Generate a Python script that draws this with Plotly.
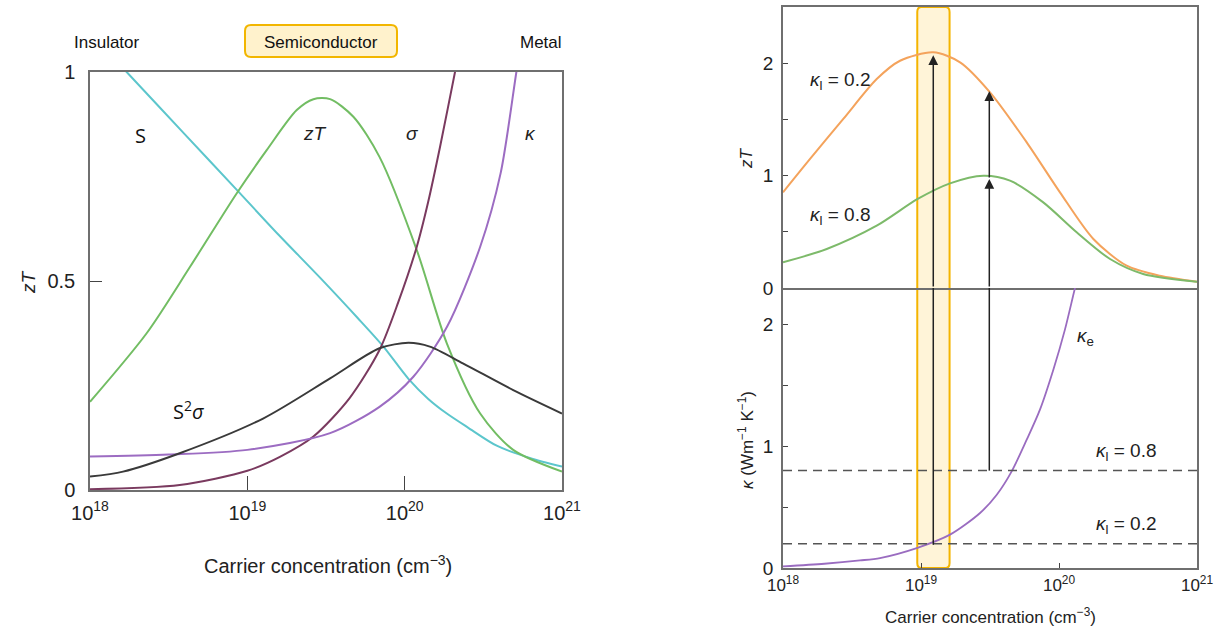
import numpy as np
import plotly.graph_objects as go

# ---------------- data (left panel) ----------------
# x positions are log10 of carrier concentration (cm^-3)
s_logn = [18.0, 18.233, 18.6, 18.933, 19.2, 19.462, 19.7, 19.865, 20.024, 20.15, 20.268, 20.4, 20.585, 20.8, 21.0]
s_val = [1.094, 1.0, 0.852, 0.718, 0.610, 0.508, 0.412, 0.343, 0.266, 0.218, 0.183, 0.150, 0.106, 0.076, 0.056]

zt_logn = [18.0, 18.36, 18.636, 18.933, 19.123, 19.314, 19.42, 19.526, 19.674, 19.84, 20.077, 20.268, 20.48, 20.69, 21.0]
zt_val = [0.211, 0.375, 0.534, 0.710, 0.813, 0.909, 0.935, 0.935, 0.893, 0.797, 0.574, 0.351, 0.183, 0.096, 0.044]

sig_logn = [18.0, 18.57, 19.0, 19.21, 19.42, 19.65, 19.84, 19.96, 20.077, 20.15, 20.225, 20.32, 20.4]
sig_val = [0.002, 0.012, 0.046, 0.080, 0.128, 0.220, 0.335, 0.450, 0.582, 0.690, 0.821, 1.0, 1.15]

kap_logn = [18.0, 18.5, 19.0, 19.526, 19.84, 20.055, 20.27, 20.48, 20.61, 20.71, 20.76]
kap_val = [0.080, 0.085, 0.096, 0.136, 0.199, 0.271, 0.391, 0.582, 0.758, 1.0, 1.12]

pf_logn = [18.0, 18.21, 18.57, 19.10, 19.526, 19.84, 20.024, 20.16, 20.37, 20.69, 21.0]
pf_val = [0.032, 0.044, 0.088, 0.171, 0.267, 0.339, 0.352, 0.343, 0.303, 0.239, 0.183]

# ---------------- data (right panel) ----------------
zt02_logn = [18.0, 18.196, 18.437, 18.679, 18.848, 19.089, 19.283, 19.5, 19.766, 20.007, 20.249, 20.49, 20.73, 21.0]
zt02_val = [0.851, 1.148, 1.504, 1.859, 2.022, 2.097, 2.008, 1.741, 1.296, 0.851, 0.436, 0.198, 0.109, 0.056]

zt08_logn = [18.0, 18.317, 18.679, 18.976, 19.21, 19.452, 19.645, 19.886, 20.128, 20.37, 20.61, 21.0]
zt08_val = [0.229, 0.347, 0.554, 0.792, 0.931, 0.999, 0.955, 0.762, 0.496, 0.258, 0.125, 0.056]

ke_logn = [18.0, 18.3, 18.558, 18.703, 18.969, 19.21, 19.428, 19.549, 19.657, 19.766, 19.862, 19.959, 20.043, 20.116, 20.14]
ke_val = [0.013, 0.035, 0.062, 0.082, 0.164, 0.274, 0.452, 0.602, 0.794, 1.054, 1.301, 1.629, 1.958, 2.30, 2.40]

kappa_l = [0.8, 0.2]
n_range_log = [18, 21]

# arrows: (log10 n, kappa start in lower plot, zT heads in upper plot)
arrow1_logn, arrow1_k, arrow1_heads = 19.089, 0.19, [2.07]
arrow2_logn, arrow2_k, arrow2_heads = 19.495, 0.80, [0.97, 1.75]

band_logn = [18.973, 19.207]

tick_logs = [18, 19, 20, 21]
tick_text = ['10<sup>18</sup>', '10<sup>19</sup>', '10<sup>20</sup>', '10<sup>21</sup>']

# ---------------- styling ----------------
W, H = 1223, 627
FONT = "Liberation Sans"
FRAME = "#6f6f6f"
C_S, C_ZT, C_SIG, C_KAP, C_PF = "#5cc6cc", "#72bd63", "#7a3a5f", "#9c6cc2", "#3a3a3a"
C_OR, C_GR, C_KE = "#f4a35c", "#7dba6a", "#9a6cc0"


def px_x(p):
    return p / W


def px_y(p):
    return 1 - p / H


def n(logs):
    return np.power(10.0, np.array(logs, dtype=float))


fig = go.Figure()

# left panel traces
for logs, vals, col in [(s_logn, s_val, C_S), (zt_logn, zt_val, C_ZT), (sig_logn, sig_val, C_SIG),
                        (kap_logn, kap_val, C_KAP), (pf_logn, pf_val, C_PF)]:
    fig.add_trace(go.Scatter(x=n(logs), y=vals, mode="lines", line=dict(color=col, width=2, shape="spline", smoothing=0.8),
                             xaxis="x", yaxis="y", showlegend=False, hoverinfo="skip"))

# right top
for logs, vals, col in [(zt02_logn, zt02_val, C_OR), (zt08_logn, zt08_val, C_GR)]:
    fig.add_trace(go.Scatter(x=n(logs), y=vals, mode="lines", line=dict(color=col, width=2, shape="spline", smoothing=0.8),
                             xaxis="x2", yaxis="y2", showlegend=False, hoverinfo="skip"))

# right bottom: kappa_e and kappa_l dashed lines
fig.add_trace(go.Scatter(x=n(ke_logn), y=ke_val, mode="lines", line=dict(color=C_KE, width=1.8, shape="spline", smoothing=0.8),
                         xaxis="x3", yaxis="y3", showlegend=False, hoverinfo="skip"))
for kl in kappa_l:
    fig.add_trace(go.Scatter(x=n(n_range_log), y=[kl, kl], mode="lines",
                             line=dict(color="#555555", width=1.5, dash="9px,6px"),
                             xaxis="x3", yaxis="y3", showlegend=False, hoverinfo="skip"))

# vertical arrow shafts in lower plot (from kappa value to the top of the lower plot)
y3_top = 2.3
for lg, k0 in [(arrow1_logn, arrow1_k), (arrow2_logn, arrow2_k)]:
    fig.add_trace(go.Scatter(x=n([lg, lg]), y=[k0, y3_top], mode="lines", line=dict(color="#222222", width=1.5),
                             xaxis="x3", yaxis="y3", showlegend=False, hoverinfo="skip", cliponaxis=False))

annotations = []
# arrow parts in upper plot
for lg, heads in [(arrow1_logn, arrow1_heads), (arrow2_logn, arrow2_heads)]:
    prev = 0.0
    for h in heads:
        annotations.append(dict(x=lg, y=h, ax=lg, ay=prev, xref="x2", yref="y2", axref="x2", ayref="y2",
                                showarrow=True, arrowhead=2, arrowsize=1.3, arrowwidth=1.5, arrowcolor="#222222", text=""))
        prev = h

# domains
dom_left_x = [px_x(90), px_x(562)]
dom_left_y = [px_y(490), px_y(72)]
dom_right_x = [px_x(783), px_x(1197)]
dom_top_y = [px_y(288), px_y(7)]
dom_bot_y = [px_y(568), px_y(288)]

axis_common = dict(showline=True, mirror=True, linecolor=FRAME, linewidth=1.5, showgrid=False, zeroline=False,
                   automargin=False, tickcolor="#444444", tickfont=dict(family=FONT, size=20, color="#222222"))

fig.update_layout(
    width=W, height=H, margin=dict(l=0, r=0, t=0, b=0, autoexpand=False),
    paper_bgcolor="white", plot_bgcolor="white",
    xaxis=dict(axis_common, type="log", range=n_range_log, domain=dom_left_x, anchor="y",
               tickvals=n(tick_logs), ticktext=tick_text, ticks="inside", ticklen=14, ticklabelstandoff=4),
    yaxis=dict(axis_common, range=[0, 1], domain=dom_left_y, anchor="x",
               tickvals=[0, 0.5, 1], ticktext=["0", "0.5", "1"], ticks="inside", ticklen=12, ticklabelstandoff=9),
    xaxis2=dict(axis_common, type="log", range=n_range_log, domain=dom_right_x, anchor="y2",
                showticklabels=False, ticks=""),
    yaxis2=dict(axis_common, range=[0, 2.5], domain=dom_top_y, anchor="x2",
                tickvals=[0, 0.5, 1, 1.5, 2], ticktext=["0", "", "1", "", "2"], ticks="inside", ticklen=5,
                tickfont=dict(family=FONT, size=19, color="#222222"), ticklabelstandoff=4),
    xaxis3=dict(axis_common, type="log", range=n_range_log, domain=dom_right_x, anchor="y3", mirror=False,
                tickvals=n(tick_logs), ticktext=tick_text, ticks="inside", ticklen=5,
                tickfont=dict(family=FONT, size=17, color="#222222"), ticklabelstandoff=1),
    yaxis3=dict(axis_common, range=[0, y3_top], domain=dom_bot_y, anchor="x3",
                tickvals=[0, 0.5, 1, 1.5, 2], ticktext=["0", "", "1", "", "2"], ticks="inside", ticklen=5,
                tickfont=dict(family=FONT, size=19, color="#222222"), ticklabelstandoff=4),
)

# yellow highlight band (rounded rectangle) spanning both right-hand plots
bx0, bx1 = band_logn
rx = 0.03
yb0, yb1 = dom_bot_y[0], dom_top_y[1]
ry = 5 / H
P = lambda lg: "%.6g" % (10 ** lg)
band_path = (f"M {P(bx0)},{yb0+ry} L {P(bx0)},{yb1-ry} Q {P(bx0)},{yb1} {P(bx0+rx)},{yb1} "
             f"L {P(bx1-rx)},{yb1} Q {P(bx1)},{yb1} {P(bx1)},{yb1-ry} L {P(bx1)},{yb0+ry} "
             f"Q {P(bx1)},{yb0} {P(bx1-rx)},{yb0} L {P(bx0+rx)},{yb0} Q {P(bx0)},{yb0} {P(bx0)},{yb0+ry} Z")
shapes = [dict(type="path", path=band_path, xref="x3", yref="paper", fillcolor="#fff4d8",
               line=dict(color="#f4b400", width=2), layer="below")]

# "Semiconductor" rounded box
sx0, sx1, sy0, sy1 = px_x(245), px_x(397), px_y(57), px_y(25)
r_x, r_y = 6 / W, 6 / H
semi_path = (f"M {sx0},{sy0+r_y} L {sx0},{sy1-r_y} Q {sx0},{sy1} {sx0+r_x},{sy1} L {sx1-r_x},{sy1} "
             f"Q {sx1},{sy1} {sx1},{sy1-r_y} L {sx1},{sy0+r_y} Q {sx1},{sy0} {sx1-r_x},{sy0} "
             f"L {sx0+r_x},{sy0} Q {sx0},{sy0} {sx0},{sy0+r_y} Z")
shapes.append(dict(type="path", path=semi_path, xref="paper", yref="paper", fillcolor="#fff2cc",
                   line=dict(color="#f2b600", width=2), layer="below"))

fig.update_layout(shapes=shapes)

TXT = dict(family=FONT, size=17, color="#111111")
CAL = dict(family="Open Sans", size=20, color="#111111")
ITA = dict(family=FONT, size=19, color="#222222")
C = dict(xanchor="center", yanchor="middle", showarrow=False)

# header labels
annotations += [
    dict(C, text="Insulator", x=px_x(107), y=px_y(42), xref="paper", yref="paper", font=TXT),
    dict(C, text="Semiconductor", x=px_x(321), y=px_y(42), xref="paper", yref="paper", font=TXT),
    dict(C, text="Metal", x=px_x(564), y=px_y(42), xref="paper", yref="paper", font=TXT, xanchor="right"),
]

# left curve labels
annotations += [
    dict(C, text="S", x=18.318, y=0.849, xref="x", yref="y", font=CAL),
    dict(C, text="<i>zT</i>", x=19.43, y=0.854, xref="x", yref="y", font=ITA),
    dict(C, text="<i>σ</i>", x=20.047, y=0.854, xref="x", yref="y", font=ITA),
    dict(C, text="<i>κ</i>", x=20.797, y=0.854, xref="x", yref="y", font=ITA),
    dict(C, text="S<sup>2</sup><i>σ</i>", x=18.623, y=0.19, xref="x", yref="y", font=CAL),
]

# axis titles
annotations += [
    dict(C, text="<i>zT</i>", x=px_x(28), y=px_y(282), xref="paper", yref="paper",
         textangle=-90, font=dict(family=FONT, size=19, color="#222222")),
    dict(C, text="Carrier concentration (cm<sup>−3</sup>)", x=px_x(328), y=px_y(564), xref="paper", yref="paper",
         font=dict(family=FONT, size=20, color="#222222")),
    dict(C, text="<i>zT</i>", x=px_x(746), y=px_y(158), xref="paper", yref="paper",
         textangle=-90, font=dict(family=FONT, size=17, color="#222222")),
    dict(C, text="<i>κ</i> (Wm<sup>−1</sup> K<sup>−1</sup>)", x=px_x(746), y=px_y(440), xref="paper", yref="paper",
         textangle=-90, font=dict(family=FONT, size=17, color="#222222")),
    dict(C, text="Carrier concentration (cm<sup>−3</sup>)", x=px_x(990), y=px_y(616), xref="paper", yref="paper",
         font=dict(family=FONT, size=17, color="#222222")),
]

# right curve labels
KL = dict(family=FONT, size=19, color="#222222")
annotations += [
    dict(C, text="<i>κ</i><sub>l</sub> = 0.2", x=18.42, y=1.84, xref="x2", yref="y2", font=KL),
    dict(C, text="<i>κ</i><sub>l</sub> = 0.8", x=18.42, y=0.64, xref="x2", yref="y2", font=KL),
    dict(C, text="<i>κ</i><sub>l</sub> = 0.8", x=20.49, y=0.95, xref="x3", yref="y3", font=KL),
    dict(C, text="<i>κ</i><sub>l</sub> = 0.2", x=20.49, y=0.356, xref="x3", yref="y3", font=KL),
    dict(C, text="<i>κ</i><sub>e</sub>", x=20.19, y=1.90, xref="x3", yref="y3", font=KL),
]

fig.update_layout(annotations=annotations)
fig.write_html("out.html")
